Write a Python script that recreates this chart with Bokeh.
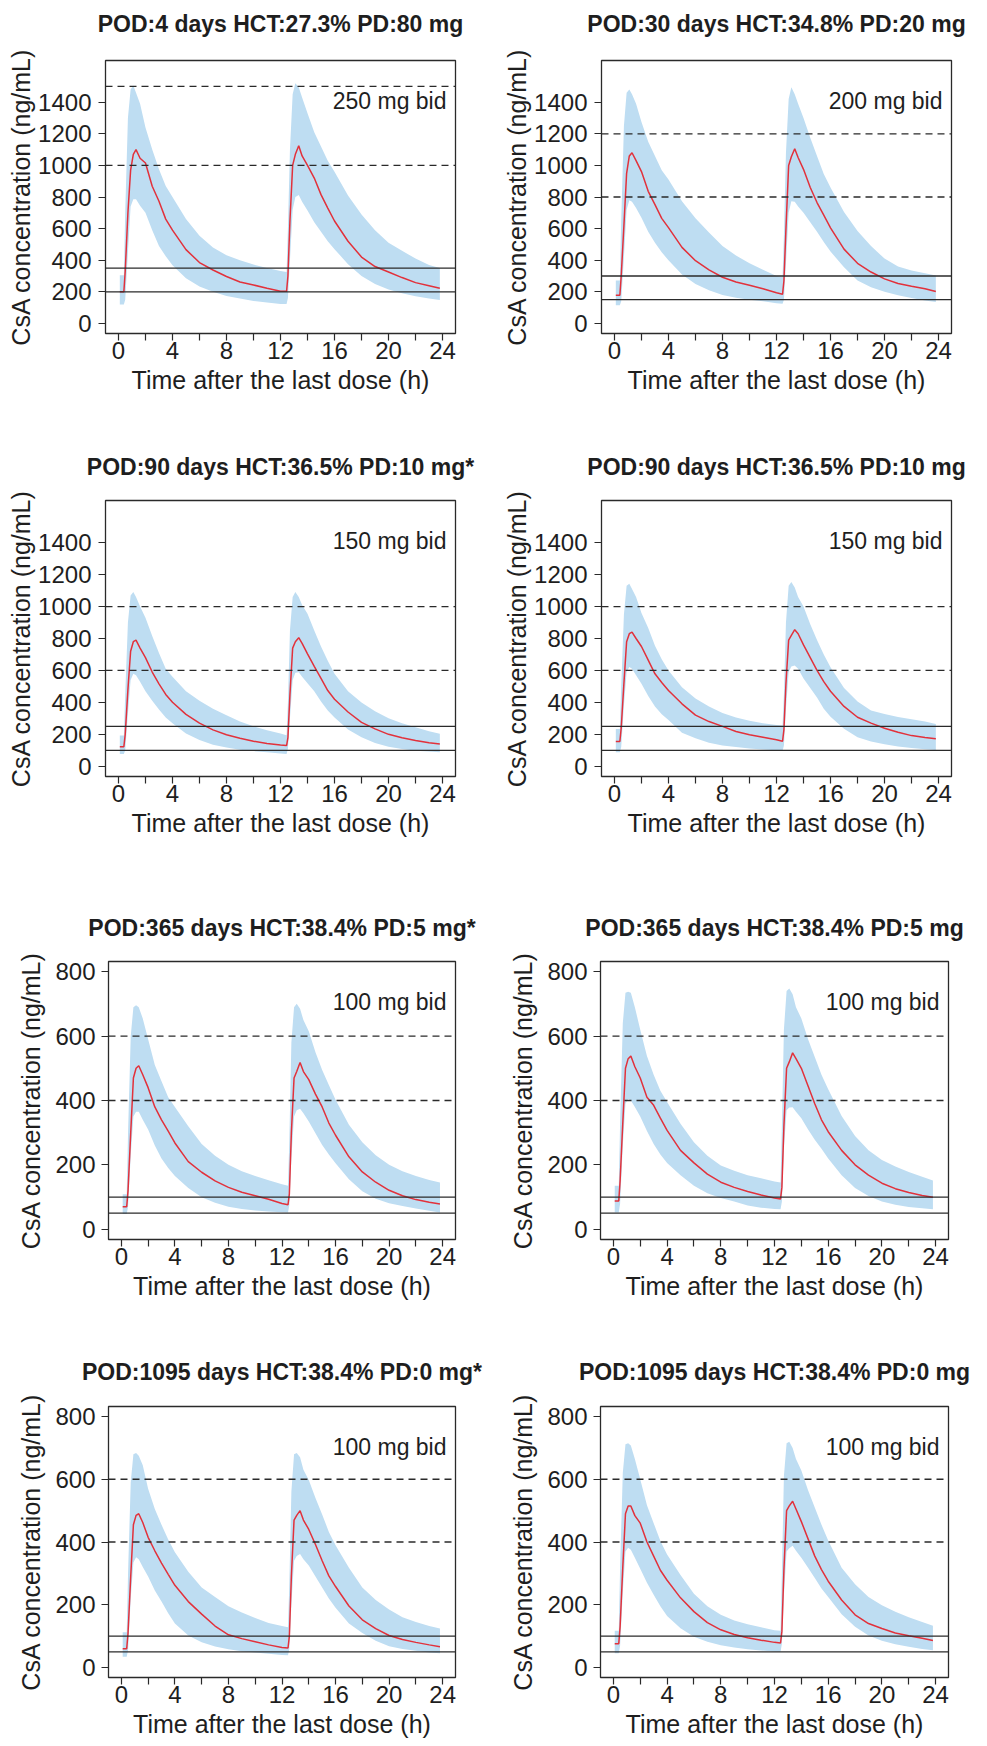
from bokeh.plotting import figure
from bokeh.models import Span, Label, FixedTicker, Range1d, Title
from bokeh.layouts import row, column
from bokeh.embed import file_html
from bokeh.resources import INLINE

# ---------------- data ----------------
TIME = [0.1, 0.4, 0.5, 0.7, 0.9, 1.1, 1.3, 1.6, 2.0, 2.5, 3.0, 3.5, 4.0, 5.0, 6.0, 7.0,
        8.0, 9.0, 10.0, 11.0, 12.0, 12.45, 12.55, 12.7, 12.9, 13.1, 13.35, 13.6, 14.0,
        14.5, 15.0, 15.5, 16.0, 17.0, 18.0, 19.0, 20.0, 21.0, 22.0, 23.0, 23.8]

TITLES = ["POD:4 days HCT:27.3% PD:80 mg", "POD:30 days HCT:34.8% PD:20 mg",
          "POD:90 days HCT:36.5% PD:10 mg*", "POD:90 days HCT:36.5% PD:10 mg",
          "POD:365 days HCT:38.4% PD:5 mg*", "POD:365 days HCT:38.4% PD:5 mg",
          "POD:1095 days HCT:38.4% PD:0 mg*", "POD:1095 days HCT:38.4% PD:0 mg"]
DOSES = ["250 mg bid", "200 mg bid", "150 mg bid", "150 mg bid",
         "100 mg bid", "100 mg bid", "100 mg bid", "100 mg bid"]
SOLID_LINES = [[350, 200], [300, 150], [250, 100], [250, 100],
               [100, 50], [100, 50], [100, 50], [100, 50]]
DASHED_LINES = [[1500, 1000], [1200, 800], [1000, 600], [1000, 600],
                [600, 400], [600, 400], [600, 400], [600, 400]]
Y_TICKS_HIGH = [0, 200, 400, 600, 800, 1000, 1200, 1400]
Y_TICKS_LOW = [0, 200, 400, 600, 800]
X_TICKS = [0, 4, 8, 12, 16, 20, 24]
X_MINOR = [2, 6, 10, 14, 18, 22]

MED_1 = [200, 200, 330, 700, 970, 1070, 1100, 1045, 1015, 868, 773, 660, 590, 467, 385, 338, 297, 262, 243, 222, 203, 203,
         300, 650, 1000, 1070, 1125, 1060, 1000, 920, 815, 730, 648, 520, 420, 360, 325, 290, 258, 238, 222]
LO_1 = [120, 120, 150, 450, 740, 785, 785, 745, 700, 590, 490, 425, 368, 285, 233, 200, 174, 157, 142, 132, 122, 122,
        160, 400, 720, 800, 812, 770, 715, 640, 580, 520, 470, 375, 300, 250, 215, 190, 172, 158, 148]
HI_1 = [305, 305, 700, 1300, 1480, 1505, 1460, 1390, 1240, 1100, 975, 870, 800, 660, 555, 480, 432, 400, 372, 350, 332, 325,
        600, 1100, 1450, 1520, 1495, 1430, 1330, 1210, 1120, 1030, 960, 810, 690, 590, 510, 460, 410, 370, 350]

MED_2 = [178, 178, 300, 620, 950, 1060, 1080, 1030, 961, 836, 752, 665, 606, 481, 397, 339, 292, 262, 241, 219, 194, 185,
         270, 600, 1000, 1055, 1105, 1050, 975, 860, 765, 685, 605, 470, 380, 325, 282, 252, 235, 219, 202]
LO_2 = [115, 115, 140, 420, 720, 780, 770, 730, 669, 580, 510, 450, 400, 310, 250, 210, 180, 162, 150, 140, 128, 125,
        150, 380, 700, 773, 770, 740, 700, 640, 580, 515, 455, 355, 272, 228, 200, 178, 160, 145, 136]
HI_2 = [272, 272, 650, 1250, 1460, 1480, 1450, 1390, 1275, 1150, 1060, 970, 910, 773, 665, 575, 490, 430, 380, 340, 300, 293,
        560, 1080, 1420, 1494, 1450, 1390, 1300, 1175, 1060, 945, 860, 705, 585, 490, 410, 360, 334, 318, 303]

MED_3 = [123, 123, 200, 480, 720, 780, 790, 740, 680, 590, 516, 450, 401, 325, 270, 228, 197, 176, 157, 143, 133, 130,
         180, 450, 740, 780, 805, 770, 704, 625, 550, 474, 420, 340, 275, 234, 200, 178, 162, 148, 140]
LO_3 = [77, 77, 100, 330, 540, 579, 570, 530, 470, 410, 355, 305, 270, 205, 165, 135, 118, 104, 95, 88, 80, 77,
        110, 300, 540, 585, 589, 560, 520, 470, 405, 350, 305, 230, 182, 145, 122, 108, 98, 92, 88]
HI_3 = [192, 192, 450, 900, 1070, 1091, 1060, 1000, 930, 815, 710, 610, 560, 470, 410, 360, 320, 280, 250, 225, 205, 195,
        400, 850, 1060, 1091, 1060, 1010, 955, 850, 750, 660, 580, 470, 400, 345, 300, 270, 245, 220, 203]

MED_4 = [155, 155, 240, 520, 780, 830, 840, 800, 750, 665, 579, 525, 474, 391, 320, 280, 250, 218, 198, 182, 166, 157,
         230, 520, 790, 820, 855, 830, 760, 680, 600, 530, 470, 375, 307, 270, 238, 213, 192, 180, 172]
LO_4 = [88, 88, 120, 380, 590, 621, 610, 570, 516, 440, 375, 325, 290, 210, 175, 148, 130, 120, 112, 105, 100, 98,
        130, 360, 590, 625, 631, 610, 550, 490, 430, 360, 310, 235, 182, 155, 138, 124, 114, 107, 102]
HI_4 = [234, 234, 500, 950, 1130, 1143, 1110, 1060, 960, 865, 755, 670, 600, 495, 425, 375, 333, 305, 285, 270, 258, 255,
        450, 900, 1130, 1154, 1120, 1060, 1000, 890, 790, 700, 620, 490, 405, 349, 328, 308, 295, 280, 265]

MED_5 = [70, 70, 120, 300, 470, 500, 508, 480, 440, 380, 340, 305, 268, 210, 177, 150, 130, 115, 104, 93, 80, 76,
         110, 300, 470, 490, 518, 490, 465, 420, 380, 330, 292, 225, 178, 146, 121, 104, 92, 84, 78]
LO_5 = [47, 47, 70, 230, 350, 365, 365, 340, 310, 260, 220, 190, 165, 128, 99, 82, 70, 63, 58, 55, 53, 52,
        75, 220, 350, 370, 374, 360, 335, 298, 262, 232, 205, 155, 118, 95, 81, 72, 64, 57, 52]
HI_5 = [109, 109, 300, 600, 690, 696, 690, 655, 590, 510, 460, 410, 380, 320, 265, 228, 200, 180, 165, 152, 140, 135,
        280, 580, 690, 701, 685, 650, 615, 550, 495, 448, 402, 325, 270, 230, 200, 180, 165, 153, 145]

MED_6 = [88, 88, 150, 330, 500, 530, 538, 505, 470, 410, 385, 345, 307, 245, 206, 171, 146, 130, 117, 106, 97, 94,
         130, 320, 500, 520, 548, 530, 500, 445, 390, 340, 303, 245, 200, 168, 143, 126, 114, 105, 99]
LO_6 = [52, 52, 80, 260, 390, 405, 400, 380, 350, 305, 265, 232, 206, 168, 135, 112, 97, 86, 74, 67, 63, 62,
        85, 250, 370, 378, 379, 365, 345, 310, 278, 250, 220, 168, 128, 103, 86, 76, 69, 65, 62]
HI_6 = [135, 135, 330, 640, 735, 738, 735, 690, 620, 538, 480, 430, 395, 328, 270, 228, 198, 182, 168, 158, 148, 145,
        320, 620, 740, 748, 730, 690, 655, 590, 535, 480, 435, 352, 290, 245, 215, 195, 178, 163, 151]

MED_7 = [60, 60, 110, 290, 455, 485, 490, 462, 415, 372, 333, 297, 262, 210, 170, 132, 104, 92, 82, 72, 64, 62,
         100, 290, 470, 485, 500, 470, 440, 392, 340, 292, 258, 196, 152, 124, 102, 89, 80, 72, 66]
LO_7 = [34, 34, 55, 220, 335, 351, 345, 320, 290, 245, 210, 173, 140, 102, 80, 67, 58, 52, 48, 44, 40, 39,
        60, 200, 340, 355, 362, 345, 325, 290, 255, 220, 190, 140, 110, 85, 68, 59, 53, 48, 45]
HI_7 = [112, 112, 300, 590, 680, 684, 675, 645, 570, 505, 455, 408, 367, 305, 255, 225, 195, 175, 158, 142, 132, 128,
        270, 560, 680, 684, 670, 630, 598, 540, 488, 432, 390, 318, 255, 215, 185, 160, 145, 132, 124]

MED_8 = [76, 76, 130, 320, 490, 515, 515, 484, 460, 400, 355, 310, 278, 222, 178, 143, 120, 105, 95, 87, 80, 78,
         115, 310, 500, 515, 530, 505, 465, 410, 355, 312, 275, 215, 168, 140, 124, 110, 101, 93, 86]
LO_8 = [45, 45, 70, 240, 370, 382, 375, 350, 315, 270, 232, 195, 164, 125, 98, 82, 71, 64, 58, 54, 51, 50,
        75, 230, 370, 380, 388, 372, 350, 318, 285, 252, 225, 170, 130, 102, 85, 74, 66, 59, 55]
HI_8 = [117, 117, 320, 620, 712, 715, 708, 665, 600, 517, 460, 403, 360, 295, 235, 195, 168, 150, 138, 128, 119, 117,
        300, 610, 715, 720, 700, 665, 628, 565, 510, 455, 405, 318, 265, 225, 198, 178, 160, 145, 133]

MEDIANS = [MED_1, MED_2, MED_3, MED_4, MED_5, MED_6, MED_7, MED_8]
LOWERS = [LO_1, LO_2, LO_3, LO_4, LO_5, LO_6, LO_7, LO_8]
UPPERS = [HI_1, HI_2, HI_3, HI_4, HI_5, HI_6, HI_7, HI_8]

# ---------------- styling / layout ----------------
FONT = "Liberation Sans"
BAND = "#BEDDF2"
RED = "#E2313B"
INK = "#1e1e1e"
X_RANGE = (-0.96, 24.96)
Y_RANGE_HIGH = (-64, 1664)
Y_RANGE_LOW = (-32, 832)

# per row: figure height, border top, border bottom, gap between title and frame
ROWS = [(440, 60, 107, 21), (460, 60, 124, 18), (445, 61, 106, 18), (399, 61, 67, 19)]
# per row & column: width, border left, border right
COLS = [[(493, 105, 38), (490, 108, 32)],
        [(493, 105, 38), (490, 108, 32)],
        [(493, 108, 38), (490, 107, 35)],
        [(493, 108, 38), (490, 107, 35)]]


def make_panel(i, r, c):
    h, bt, bb, gap = ROWS[r]
    w, bl, br = COLS[r][c]
    high = r < 2
    yr = Y_RANGE_HIGH if high else Y_RANGE_LOW
    p = figure(width=w, height=h, output_backend="svg", toolbar_location=None,
               x_range=Range1d(*X_RANGE), y_range=Range1d(*yr),
               min_border_left=bl, min_border_right=br,
               min_border_top=bt, min_border_bottom=bb,
               title=TITLES[i])
    p.title.text_font = FONT
    p.title.text_font_size = "23px"
    p.title.text_font_style = "bold"
    p.title.text_color = INK
    p.title.align = "center"
    p.title.standoff = 0
    # empty spacer between the title and the frame
    p.add_layout(Title(text=" ", text_font_size="1px", standoff=gap), "above")

    p.background_fill_color = "white"
    p.border_fill_color = "white"
    p.outline_line_color = "#2a2a2a"
    p.outline_line_width = 1.3
    p.xgrid.visible = False
    p.ygrid.visible = False

    p.varea(x=TIME, y1=LOWERS[i], y2=UPPERS[i], fill_color=BAND, fill_alpha=1.0)
    p.line(x=TIME, y=MEDIANS[i], line_color=RED, line_width=1.5)

    for v in SOLID_LINES[i]:
        p.add_layout(Span(location=v, dimension="width", line_color="#2a2a2a", line_width=1.3))
    for v in DASHED_LINES[i]:
        p.add_layout(Span(location=v, dimension="width", line_color="#2a2a2a", line_width=1.3,
                          line_dash="7 5"))

    # dose annotation, top right inside the frame
    p.add_layout(Label(x=X_RANGE[1], y=yr[1], x_offset=-9, y_offset=-40, text=DOSES[i],
                       text_align="right", text_baseline="middle", text_font=FONT,
                       text_font_size="23px", text_color=INK))

    xa = p.xaxis[0]
    xa.ticker = FixedTicker(ticks=X_TICKS, minor_ticks=X_MINOR)
    xa.axis_label = "Time after the last dose (h)"
    ya = p.yaxis[0]
    ya.ticker = FixedTicker(ticks=Y_TICKS_HIGH if high else Y_TICKS_LOW)
    ya.axis_label = "CsA concentration (ng/mL)"
    for ax in (xa, ya):
        ax.axis_line_color = None
        ax.major_tick_out = 7
        ax.major_tick_in = 0
        ax.minor_tick_out = 7
        ax.minor_tick_in = 0
        ax.major_tick_line_color = "#2a2a2a"
        ax.minor_tick_line_color = "#2a2a2a"
        ax.major_tick_line_width = 1.2
        ax.minor_tick_line_width = 1.2
        ax.major_label_text_font = FONT
        ax.major_label_text_font_size = "24px"
        ax.major_label_text_color = INK
        ax.axis_label_text_font = FONT
        ax.axis_label_text_font_size = "25px"
        ax.axis_label_text_font_style = "normal"
        ax.axis_label_text_color = INK
    xa.major_label_standoff = 1
    xa.axis_label_standoff = 4
    ya.major_label_standoff = 7 if high else 6
    ya.axis_label_standoff = 0 if high else 7
    return p


rows = []
k = 0
for r in range(4):
    figs = []
    for c in range(2):
        figs.append(make_panel(k, r, c))
        k += 1
    rows.append(row(*figs))

layout = column(*rows)
open("out.html", "w").write(file_html(layout, INLINE))
